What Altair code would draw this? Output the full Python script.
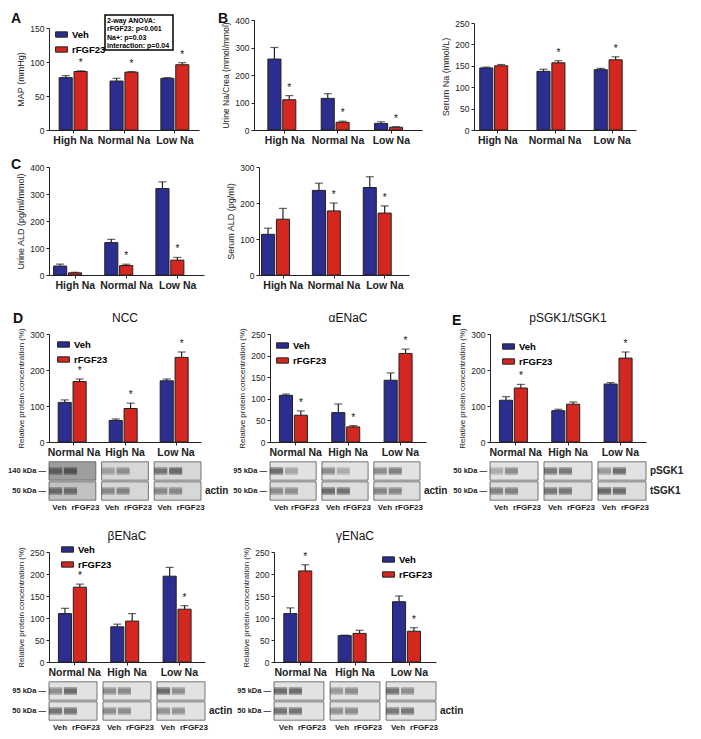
import altair as alt
import pandas as pd

VEH, RF = "Veh", "rFGF23"
TREAT = [VEH, RF]
COLORS = ["#2b2d8f", "#d3271f"]
FONT = "Liberation Sans"

GROUPS_1 = ["High Na", "Normal Na", "Low Na"]
GROUPS_2 = ["Normal Na", "High Na", "Low Na"]

# ---- Panel A: MAP (mmHg)
A_VEH = [77, 72, 76]; A_VEH_SEM = [3, 4, 1]
A_RF = [86, 85, 96]; A_RF_SEM = [1, 1, 3]; A_STAR = [1, 1, 1]
ANOVA = "2-way ANOVA:\nrFGF23: p<0.001\nNa+: p=0.03\nInteraction: p=0.04"
# ---- Panel B: urine Na/Crea, serum Na
B1_VEH = [258, 115, 24]; B1_VEH_SEM = [42, 17, 6]
B1_RF = [110, 28, 10]; B1_RF_SEM = [15, 4, 2]; B1_STAR = [1, 1, 1]
B2_VEH = [145, 137, 141]; B2_VEH_SEM = [2, 5, 3]
B2_RF = [150, 157, 164]; B2_RF_SEM = [3, 5, 7]; B2_STAR = [0, 1, 1]
# ---- Panel C: urine ALD, serum ALD
C1_VEH = [33, 120, 320]; C1_VEH_SEM = [7, 12, 25]
C1_RF = [8, 35, 55]; C1_RF_SEM = [2, 5, 10]; C1_STAR = [0, 1, 1]
C2_VEH = [113, 235, 243]; C2_VEH_SEM = [17, 20, 30]
C2_RF = [155, 178, 172]; C2_RF_SEM = [30, 22, 20]; C2_STAR = [0, 1, 1]
# ---- Panel D/E: relative protein concentration (%)
NCC_VEH = [110, 60, 170]; NCC_VEH_SEM = [7, 4, 5]
NCC_RF = [168, 93, 235]; NCC_RF_SEM = [7, 15, 15]; NCC_STAR = [1, 1, 1]
AEN_VEH = [108, 68, 143]; AEN_VEH_SEM = [3, 20, 17]
AEN_RF = [62, 35, 205]; AEN_RF_SEM = [10, 3, 10]; AEN_STAR = [1, 1, 1]
SGK_VEH = [116, 87, 161]; SGK_VEH_SEM = [10, 4, 4]
SGK_RF = [150, 105, 233]; SGK_RF_SEM = [10, 6, 17]; SGK_STAR = [1, 0, 1]
BEN_VEH = [110, 80, 195]; BEN_VEH_SEM = [12, 6, 20]
BEN_RF = [170, 93, 120]; BEN_RF_SEM = [7, 17, 8]; BEN_STAR = [1, 0, 1]
GEN_VEH = [110, 60, 137]; GEN_VEH_SEM = [13, 1, 13]
GEN_RF = [207, 65, 70]; GEN_RF_SEM = [14, 7, 8]; GEN_STAR = [1, 0, 1]

# ---- western blot band darkness (Veh, rFGF23 per group) and box background grey
NCC_BLOT = [[0.80, 0.98, 0.45, 0.60, 0.85, 0.95], [0.85, 0.85, 0.65, 0.70, 0.65, 0.65]]
NCC_BG = [[0.35, 0.14, 0.14], [0.22, 0.14, 0.14]]
AEN_BLOT = [[0.95, 0.45, 0.65, 0.40, 0.65, 0.80], [0.65, 0.60, 0.95, 0.90, 0.70, 0.70]]
AEN_BG = [[0.10, 0.10, 0.10], [0.12, 0.12, 0.12]]
SGK_BLOT = [[0.40, 0.65, 0.85, 0.85, 0.55, 0.98], [0.75, 0.75, 0.85, 0.85, 0.98, 0.95]]
SGK_BG = [[0.10, 0.10, 0.10], [0.12, 0.12, 0.12]]
BEN_BLOT = [[0.65, 0.98, 0.65, 0.70, 0.98, 0.65], [0.90, 0.90, 0.65, 0.65, 0.60, 0.60]]
BEN_BG = [[0.10, 0.10, 0.10], [0.10, 0.10, 0.10]]
GEN_BLOT = [[0.95, 0.98, 0.55, 0.65, 0.90, 0.65], [0.90, 0.90, 0.60, 0.65, 0.85, 0.85]]
GEN_BG = [[0.10, 0.10, 0.10], [0.10, 0.10, 0.10]]


def make_df(groups, veh, veh_sem, rf, rf_sem, stars):
    rows = []
    for i, g in enumerate(groups):
        rows.append(dict(group=g, treat=VEH, value=veh[i], top=veh[i] + veh_sem[i], star=""))
        rows.append(dict(group=g, treat=RF, value=rf[i], top=rf[i] + rf_sem[i],
                         star="*" if stars[i] else ""))
    return pd.DataFrame(rows)


def label_layer(txt, x, y, size, weight="bold", align="left"):
    return alt.Chart(pd.DataFrame({"t": [txt]})).mark_text(
        align=align, baseline="alphabetic", fontSize=size, fontWeight=weight, color="#111"
    ).encode(x=alt.value(x), y=alt.value(y), text="t:N")


def bar_panel(df, groups, ymax, ystep, ytitle, w, h, leg, yrange=None,
              pi=0.38, po=0.18, opi=0.25, letter=None, title=None, extra=None, xfs=10.5,
              yfs=9):
    ys = dict(domain=[0, ymax], nice=False, zero=True)
    if yrange is not None:
        ys["range"] = yrange
    yscale = alt.Scale(**ys)
    yaxis = alt.Axis(title=ytitle, values=list(range(0, ymax + 1, ystep)), tickSize=3,
                     labelFontSize=8.5, titleFontSize=yfs, titleFontWeight="normal",
                     titlePadding=4, labelPadding=2, domainColor="#222",
                     tickColor="#222", labelOverlap=False, labelFlush=False)

    def Y(f):
        return alt.Y(f, scale=yscale, axis=yaxis)

    x = alt.X("group:N", sort=groups,
              scale=alt.Scale(domain=groups, paddingInner=pi, paddingOuter=po),
              axis=alt.Axis(title=None, labelAngle=0, labelFontWeight="bold", labelFontSize=xfs,
                            tickSize=3, labelPadding=2, domainColor="#222", tickColor="#222",
                            labelOverlap=False))
    xo = alt.XOffset("treat:N", sort=TREAT,
                     scale=alt.Scale(domain=TREAT, paddingInner=opi, paddingOuter=0))
    base = alt.Chart(df)
    bars = base.mark_bar(stroke="#222", strokeWidth=1).encode(
        x=x, xOffset=xo, y=Y("value:Q"),
        fill=alt.Fill("treat:N", sort=TREAT, scale=alt.Scale(domain=TREAT, range=COLORS),
                      legend=alt.Legend(title=None, orient="none", legendX=leg[0], legendY=leg[1],
                                        symbolType="M-1,-0.45H1V0.45H-1Z", symbolSize=140,
                                        symbolStrokeColor="#222", symbolStrokeWidth=1,
                                        symbolOpacity=1, labelFontSize=9.5, labelFontWeight="bold",
                                        rowPadding=3, labelOffset=4, padding=0)),
    )
    err = base.mark_rule(color="#222", strokeWidth=1.2).encode(
        x=x, xOffset=xo, y=Y("value:Q"), y2="top:Q")
    cap = base.mark_tick(color="#222", thickness=1.2, size=8).encode(
        x=x, xOffset=xo, y=Y("top:Q"))
    star = base.mark_text(dy=-3, baseline="bottom", fontSize=10, color="#111").encode(
        x=x, xOffset=xo, y=Y("top:Q"), text="star:N")
    layers = [bars, err, cap, star]
    if letter is not None:
        layers.append(label_layer(letter[0], letter[1], letter[2], 14))
    if title is not None:
        layers.append(label_layer(title, w / 2, -12, 12, weight="normal", align="center"))
    if extra:
        layers += extra
    return alt.layer(*layers).properties(width=w, height=h)


def blot_panel(groups, blot, bg, left_labels, right_labels, w, h=40):
    rows, boxes = [], []
    for r in range(2):
        for i, g in enumerate(groups):
            boxes.append(dict(group=g, y0=r + 0.04, y1=r + 0.96, bg=bg[r][i]))
            for j, t in enumerate(TREAT):
                rows.append(dict(group=g, treat=t, row=r, b0=r + 0.38, b1=r + 0.62,
                                 f0=r + 0.30, f1=r + 0.70, dark=blot[r][2 * i + j]))
    bdf = pd.DataFrame(rows)
    xdf = pd.DataFrame(boxes)
    ldf = pd.DataFrame(dict(row=[0.5, 1.5], left=left_labels, right=right_labels))
    ys = alt.Scale(domain=[0, 2], reverse=True, nice=False)
    x = alt.X("group:N", sort=groups,
              scale=alt.Scale(domain=groups, paddingInner=0.11, paddingOuter=0), axis=None)
    xo = alt.XOffset("treat:N", sort=TREAT,
                     scale=alt.Scale(domain=TREAT, paddingInner=0.22, paddingOuter=0.04))
    box = alt.Chart(xdf).mark_bar(stroke="#555", strokeWidth=0.8).encode(
        x=x, y=alt.Y("y0:Q", scale=ys, axis=None), y2="y1:Q",
        fill=alt.Fill("bg:Q", scale=alt.Scale(domain=[0, 1], range=["#ffffff", "#000000"]),
                      legend=None))
    fuzz = alt.Chart(bdf).mark_bar(fill="#222").encode(
        x=x, xOffset=xo, y=alt.Y("f0:Q", scale=ys, axis=None), y2="f1:Q",
        opacity=alt.Opacity("dark:Q", scale=alt.Scale(domain=[0, 1], range=[0, 0.35]), legend=None))
    band = alt.Chart(bdf).mark_bar(fill="#0a0a0a").encode(
        x=x, xOffset=xo, y=alt.Y("b0:Q", scale=ys, axis=None), y2="b1:Q",
        opacity=alt.Opacity("dark:Q", scale=alt.Scale(domain=[0, 1], range=[0, 1]), legend=None))
    left = alt.Chart(ldf).mark_text(align="right", fontSize=7.5, fontWeight="bold", color="#222").encode(
        x=alt.value(-3), y=alt.Y("row:Q", scale=ys, axis=None), text="left:N")
    right = alt.Chart(ldf).mark_text(align="left", fontSize=10, fontWeight="bold", color="#222").encode(
        x=alt.value(w + 4), y=alt.Y("row:Q", scale=ys, axis=None), text="right:N")
    box_w = w / (3 - 0.11) * (1 - 0.11)
    lane_dx = round(box_w * 0.27)
    lab = bdf[bdf["row"] == 1]
    lane_v = alt.Chart(lab[lab["treat"] == VEH]).mark_text(
        fontSize=8, fontWeight="bold", color="#222", baseline="top", dx=-lane_dx).encode(
        x=x, y=alt.value(h + 3), text="treat:N")
    lane_r = alt.Chart(lab[lab["treat"] == RF]).mark_text(
        fontSize=8, fontWeight="bold", color="#222", baseline="top", dx=lane_dx).encode(
        x=x, y=alt.value(h + 3), text="treat:N")
    return alt.layer(box, fuzz, band, left, right, lane_v, lane_r).properties(width=w, height=h)


# ---------------- Row 1
anova_box = alt.Chart(pd.DataFrame({"t": [ANOVA]})).mark_rect(
    fill="white", stroke="black", strokeWidth=1.5).encode(
    x=alt.value(56), x2=alt.value(124), y=alt.value(-5), y2=alt.value(30))
anova_txt = alt.Chart(pd.DataFrame({"t": [ANOVA]})).mark_text(
    align="left", baseline="top", fontSize=7, fontWeight="bold", lineBreak="\n",
    lineHeight=8.3, color="black").encode(x=alt.value(58), y=alt.value(-3), text="t:N")

pA = bar_panel(make_df(GROUPS_1, A_VEH, A_VEH_SEM, A_RF, A_RF_SEM, A_STAR), GROUPS_1, 150, 50,
               "MAP (mmHg)", 150, 110, (6, 8), yrange=[110, 8], pi=0.45, po=0.2, opi=0.12,
               letter=("A", -38, 3), extra=[anova_box, anova_txt])
pB1 = bar_panel(make_df(GROUPS_1, B1_VEH, B1_VEH_SEM, B1_RF, B1_RF_SEM, B1_STAR), GROUPS_1, 400, 100,
                "Urine Na/Crea (mmol/mmol)", 168, 110, (108, 6), pi=0.37, po=0.26, opi=0.15,
                letter=("B", -36, 3), yfs=8.5)
pB2 = bar_panel(make_df(GROUPS_1, B2_VEH, B2_VEH_SEM, B2_RF, B2_RF_SEM, B2_STAR), GROUPS_1, 250, 50,
                "Serum Na (mmol/L)", 162, 110, (8, 0), yrange=[110, 3], pi=0.37, po=0.1, opi=0.15)
row1 = alt.hconcat(pA, pB1, pB2, spacing=19)

# ---------------- Row 2
pC1 = bar_panel(make_df(GROUPS_1, C1_VEH, C1_VEH_SEM, C1_RF, C1_RF_SEM, C1_STAR), GROUPS_1, 400, 100,
                "Urine ALD (pg/ml/mmol)", 155, 108, (7, 1), pi=0.15, po=0.09, opi=0.25,
                letter=("C", -38, 2))
pC2 = bar_panel(make_df(GROUPS_1, C2_VEH, C2_VEH_SEM, C2_RF, C2_RF_SEM, C2_STAR), GROUPS_1, 300, 100,
                "Serum ALD (pg/ml)", 150, 108, (5, 3), pi=0.15, po=0.05, opi=0.25)
row2 = alt.hconcat(pC1, pC2, spacing=22)

# ---------------- Row 3
YT = "Relative protein concentration (%)"
pNCC = alt.vconcat(
    bar_panel(make_df(GROUPS_2, NCC_VEH, NCC_VEH_SEM, NCC_RF, NCC_RF_SEM, NCC_STAR), GROUPS_2, 300,
              100, YT, 152, 108, (8, 4), letter=("D", -36, -11), title="NCC", yfs=8),
    blot_panel(GROUPS_2, NCC_BLOT, NCC_BG, ["140 kDa —", "50 kDa —"], ["", "actin"], 152),
    spacing=3)
pAEN = alt.vconcat(
    bar_panel(make_df(GROUPS_2, AEN_VEH, AEN_VEH_SEM, AEN_RF, AEN_RF_SEM, AEN_STAR), GROUPS_2, 250,
              50, YT, 156, 108, (6, 5), title="αENaC", yfs=8),
    blot_panel(GROUPS_2, AEN_BLOT, AEN_BG, ["95 kDa —", "50 kDa —"], ["", "actin"], 150),
    spacing=3)
pSGK = alt.vconcat(
    bar_panel(make_df(GROUPS_2, SGK_VEH, SGK_VEH_SEM, SGK_RF, SGK_RF_SEM, SGK_STAR), GROUPS_2, 300,
              100, YT, 156, 108, (12, 6), letter=("E", -38, -9), title="pSGK1/tSGK1", yfs=8),
    blot_panel(GROUPS_2, SGK_BLOT, SGK_BG, ["50 kDa —", "50 kDa —"], ["pSGK1", "tSGK1"], 156),
    spacing=3)
row3 = alt.hconcat(pNCC, pAEN, pSGK, spacing=4)

# ---------------- Row 4
pBEN = alt.vconcat(
    bar_panel(make_df(GROUPS_2, BEN_VEH, BEN_VEH_SEM, BEN_RF, BEN_RF_SEM, BEN_STAR), GROUPS_2, 250,
              50, YT, 156, 110, (12, -9), title="βENaC", yfs=8),
    blot_panel(GROUPS_2, BEN_BLOT, BEN_BG, ["95 kDa —", "50 kDa —"], ["", "actin"], 156),
    spacing=3)
pGEN = alt.vconcat(
    bar_panel(make_df(GROUPS_2, GEN_VEH, GEN_VEH_SEM, GEN_RF, GEN_RF_SEM, GEN_STAR), GROUPS_2, 250,
              50, YT, 162, 110, (108, 1), title="γENaC", yfs=8),
    blot_panel(GROUPS_2, GEN_BLOT, GEN_BG, ["95 kDa —", "50 kDa —"], ["", "actin"], 162),
    spacing=3)
row4 = alt.hconcat(pBEN, pGEN, spacing=4)

chart = alt.vconcat(
    alt.vconcat(row1, row2, spacing=12),
    alt.vconcat(row3, row4, spacing=18),
    spacing=21,
).properties(padding={"left": 0, "top": 4, "right": 0, "bottom": 0}).configure(
    font=FONT).configure_view(stroke=None).configure_axis(
    grid=False, labelColor="#222", titleColor="#222", labelFont=FONT, titleFont=FONT
).configure_legend(labelFont=FONT).configure_text(font=FONT)

chart.save("out.html", embed_options={"renderer": "svg", "actions": False})
